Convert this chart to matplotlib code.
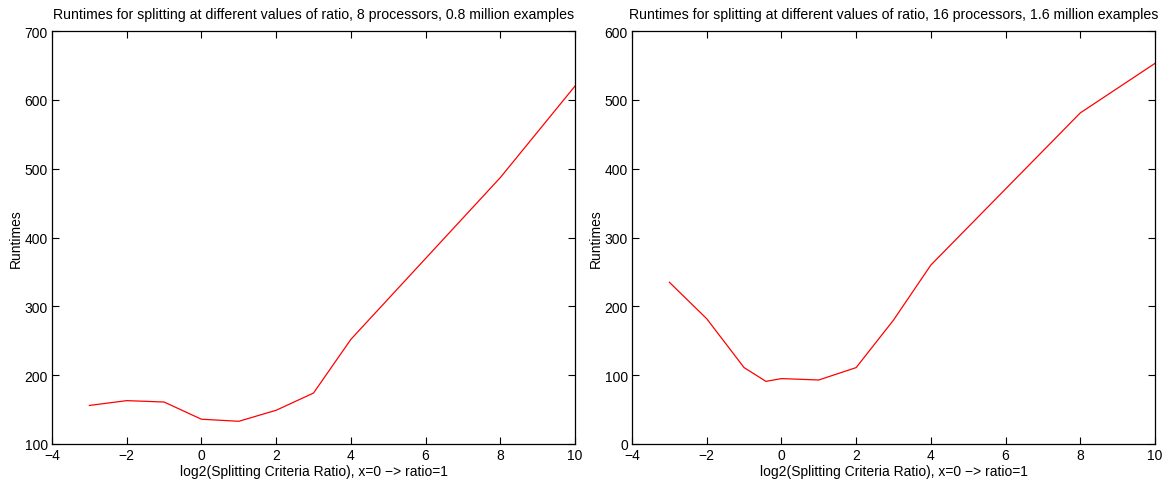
import numpy as np
import matplotlib.pyplot as plt

plt.rcParams['font.family'] = ['Liberation Sans', 'DejaVu Sans']

# data
x_8 = [-3, -2, -1, 0, 1, 2, 3, 4, 8, 10]
y_8 = [156, 163, 161, 136, 133, 149, 174, 252, 487, 620]

x_16 = [-3, -2, -1, -0.415, 0, 1, 2, 3, 4, 8, 10]
y_16 = [235, 182, 111, 91, 95, 93, 111, 180, 260, 481, 553]

titles = ['Runtimes for splitting at different values of ratio, 8 processors, 0.8 million examples',
          'Runtimes for splitting at different values of ratio, 16 processors, 1.6 million examples']
xlabel = 'log2(Splitting Criteria Ratio), x=0 \u2212> ratio=1'
ylabel = 'Runtimes'

fig = plt.figure(figsize=(11.65, 4.81), dpi=100)
W, H = 1165, 481
ax1 = fig.add_axes([52 / W, 1 - 445 / H, (575 - 52) / W, (445 - 32) / H])
ax2 = fig.add_axes([632 / W, 1 - 445 / H, (1155 - 632) / W, (445 - 32) / H])

for ax, xs, ys, t, ylim, yt in [
        (ax1, x_8, y_8, titles[0], (100, 700), np.arange(100, 701, 100)),
        (ax2, x_16, y_16, titles[1], (0, 600), np.arange(0, 601, 100))]:
    ax.plot(xs, ys, color='red', linewidth=0.9)
    ax.set_xlim(-4, 10)
    ax.set_ylim(*ylim)
    ax.set_xticks(np.arange(-4, 11, 2))
    ax.set_xticklabels(['\u22124', '\u22122', '0', '2', '4', '6', '8', '10'])
    ax.set_yticks(yt)
    ax.tick_params(direction='in', top=True, right=True, length=5, width=0.8,
                   labelsize=10, pad=3)
    ax.set_title(t, fontsize=10.2, pad=9)
    ax.set_xlabel(xlabel, fontsize=10, labelpad=1)
    ax.set_ylabel(ylabel, fontsize=10, labelpad=1)
    for s in ax.spines.values():
        s.set_linewidth(0.9)

plt.savefig('out.png', dpi=100)
